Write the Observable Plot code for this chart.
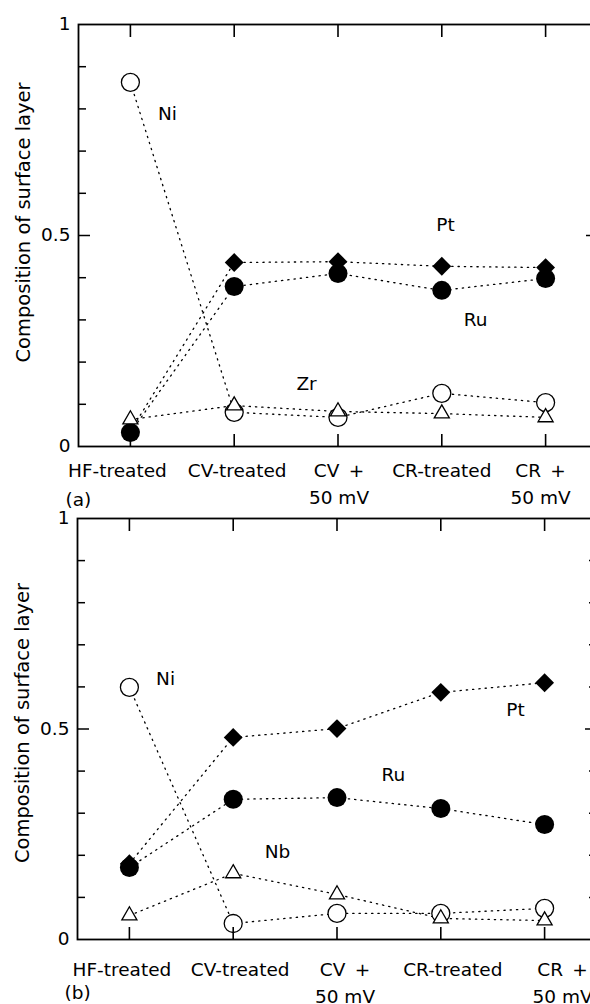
<!DOCTYPE html>
<html><head><meta charset="utf-8">
<script src="https://cdn.jsdelivr.net/npm/d3@7"></script>
<script src="https://cdn.jsdelivr.net/npm/@observablehq/plot@0.6"></script>
<style>
html,body{margin:0;padding:0;background:#fff;width:590px;height:1004px;overflow:hidden;}
#wrap{position:relative;width:590px;height:1004px;overflow:hidden;background:#fff;}
.panel{position:absolute;left:0;width:620px;}
</style></head><body><div id="wrap"></div>
<script>
// ---- data ----
const categories = ["HF-treated", "CV-treated", "CV\u2002+\n50 mV", "CR-treated", "CR\u2002+\n50 mV"];
const yTickValues = [0, 0.5, 1];
const yTickLabels = ["0", "0.5", "1"];
const yMinorTicks = [0.1, 0.2, 0.3, 0.4, 0.6, 0.7, 0.8, 0.9];
const yLabel = "Composition of surface layer";

// panel (a)
const niA = [0.863, 0.081, 0.069, 0.126, 0.104];
const ptA = [0.036, 0.436, 0.438, 0.427, 0.424];
const ruA = [0.033, 0.379, 0.410, 0.370, 0.398];
const zrA = [0.064, 0.097, 0.083, 0.078, 0.069];
const seriesLabelsA = ["Ni", "Pt", "Ru", "Zr"];
const labelPosA = [[0.357, 0.787], [3.036, 0.524], [3.325, 0.299], [1.697, 0.149]];

// panel (b)
const niB = [0.599, 0.038, 0.062, 0.062, 0.074];
const ptB = [0.180, 0.480, 0.501, 0.587, 0.610];
const ruB = [0.171, 0.333, 0.337, 0.311, 0.273];
const nbB = [0.057, 0.157, 0.107, 0.050, 0.045];
const seriesLabelsB = ["Ni", "Pt", "Ru", "Nb"];
const labelPosB = [[0.348, 0.618], [3.72, 0.544], [2.544, 0.39], [1.427, 0.207]];

// ---- drawing ----
function panel(spec) {
  const rows = [];
  spec.series.forEach(s => s.values.forEach((v, i) => rows.push({el: s.name, kind: s.kind, i, v})));
  const kind = k => rows.filter(d => d.kind === k);
  const labels = spec.labelNames.map((t, k) => ({text: t, x: spec.labelPos[k][0], y: spec.labelPos[k][1]}));
  const idx = categories.map((c, i) => i);
  const marks = [
    Plot.line(rows, {x: "i", y: "v", z: "el", stroke: "black", strokeWidth: 1.3, strokeDasharray: "1.3,5"}),
    Plot.dot(kind("diamond"), {x: "i", y: "v", symbol: "diamond2", r: 8.5, fill: "black", stroke: "none"}),
    Plot.dot(kind("disc"), {x: "i", y: "v", r: 9.5, fill: "black", stroke: "none"}),
    Plot.dot(kind("ring"), {x: "i", y: "v", r: 9, fill: "white", stroke: "black", strokeWidth: 1.3}),
    Plot.dot(kind("tri"), {x: "i", y: "v", symbol: "triangle", r: 5.6, fill: "white", stroke: "black", strokeWidth: 1.3}),
    Plot.text(labels, {x: "x", y: "y", text: "text", textAnchor: "middle", lineAnchor: "middle"}),
    Plot.frame({stroke: "black", strokeWidth: 1.8}),
    Plot.axisX({anchor: "top", ticks: idx, tickSize: 12, dy: 12, strokeWidth: 1.6, tickFormat: () => "", label: null}),
    Plot.axisX({anchor: "bottom", ticks: idx, tickSize: 12, dy: -12, strokeWidth: 1.6, tickFormat: () => "", label: null}),
    Plot.axisY({anchor: "left", ticks: yMinorTicks, tickSize: 8, dx: 8, strokeWidth: 1.5, tickFormat: () => "", label: null}),
    Plot.axisY({anchor: "left", ticks: [0.5], tickSize: 12, dx: 12, strokeWidth: 1.5, tickFormat: () => "", label: null}),
    Plot.axisY({anchor: "right", ticks: yMinorTicks, tickSize: 8, dx: -8, strokeWidth: 1.5, tickFormat: () => "", label: null}),
    Plot.axisY({anchor: "right", ticks: [0.5], tickSize: 12, dx: -12, strokeWidth: 1.5, tickFormat: () => "", label: null}),
    Plot.axisY({anchor: "left", ticks: yTickValues, tickSize: 0, tickPadding: 8, tickFormat: (d) => yTickLabels[yTickValues.indexOf(d)], label: null}),
    Plot.text([yLabel], {frameAnchor: "left", rotate: -90, dx: -55, dy: spec.yLabelDy, textAnchor: "middle", lineAnchor: "middle", fontSize: 19.5}),
    Plot.text([spec.tag], {frameAnchor: "bottom-left", textAnchor: "start", lineAnchor: "middle", dx: -13, dy: 54}),
    ...categories.map((c, i) => Plot.text([i], {x: d => d, text: () => c, frameAnchor: "bottom", textAnchor: "middle", lineAnchor: "top", lineHeight: 1.5, dy: spec.labelPad, dx: spec.labelDx[i]}))
  ];
  return Plot.plot({
    width: spec.width, height: spec.height,
    marginLeft: spec.marginLeft, marginRight: 0, marginTop: 24, marginBottom: spec.height - 24 - spec.frameH,
    x: {type: "linear", domain: [-0.5, 4.5], label: null},
    y: {type: "linear", domain: [0, 1], label: null},
    style: {fontFamily: "'DejaVu Sans', sans-serif", fontSize: "18.5px", color: "black", background: "transparent", maxWidth: "none", overflow: "visible"},
    marks
  });
}

const wrap = document.getElementById("wrap");
function place(node, top) {
  const d = document.createElement("div");
  d.className = "panel";
  d.style.top = top + "px";
  d.appendChild(node);
  wrap.appendChild(d);
}

place(panel({
  series: [
    {name: "Pt", kind: "diamond", values: ptA},
    {name: "Ru", kind: "disc", values: ruA},
    {name: "Ni", kind: "ring", values: niA},
    {name: "Zr", kind: "tri", values: zrA}
  ],
  labelNames: seriesLabelsA, labelPos: labelPosA,
  width: 597, height: 516, frameH: 422, marginLeft: 78,
  yLabelDy: -13, tag: "(a)", labelPad: 10.5, labelDx: [-13, 3, 1, 0, -5]
}), 0);

place(panel({
  series: [
    {name: "Pt", kind: "diamond", values: ptB},
    {name: "Ru", kind: "disc", values: ruB},
    {name: "Ni", kind: "ring", values: niB},
    {name: "Nb", kind: "tri", values: nbB}
  ],
  labelNames: seriesLabelsB, labelPos: labelPosB,
  width: 596, height: 510, frameH: 421, marginLeft: 77,
  yLabelDy: -6, tag: "(b)", labelPad: 16.5, labelDx: [-7.5, 7, 8, 12, 18]
}), 494);
</script></body></html>
